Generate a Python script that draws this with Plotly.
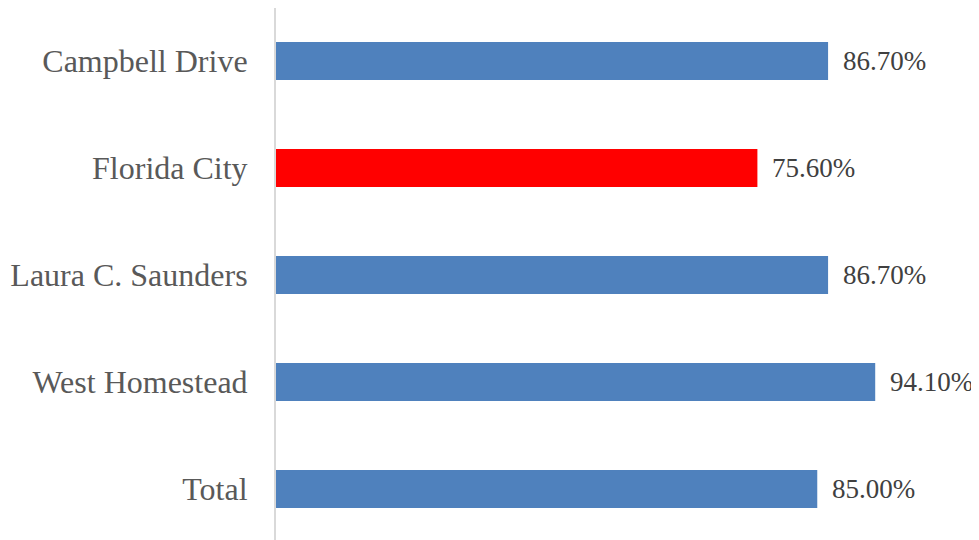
import plotly.graph_objects as go

categories = ["Campbell Drive", "Florida City", "Laura C. Saunders", "West Homestead", "Total"]
values = [86.7, 75.6, 86.7, 94.1, 85.0]
bar_colors = ["#4f81bd", "#ff0000", "#4f81bd", "#4f81bd", "#4f81bd"]
value_labels = [f"{v:.2f}%" for v in values]

fig = go.Figure()
fig.add_trace(go.Bar(
    y=categories, x=values, orientation="h",
    marker=dict(color=bar_colors, line=dict(width=0)),
    hoverinfo="skip",
))

for c, v, t in zip(categories, values, value_labels):
    fig.add_annotation(x=v, y=c, text=t, showarrow=False, xanchor="left",
                       xshift=13, yshift=0,
                       font=dict(family="Liberation Serif", size=27, color="#404040"))

# page body adds an 8px margin, so the figure is sized to fit the 979x540 window
fig.update_layout(
    width=971, height=532,
    margin=dict(l=268, r=0, t=0, b=0),
    paper_bgcolor="white", plot_bgcolor="white",
    bargap=0.645,
    showlegend=False,
    font=dict(family="Liberation Serif"),
)
fig.update_xaxes(range=[0, 110.4], showgrid=False, zeroline=False,
                 showticklabels=False, showline=False)
fig.update_yaxes(categoryorder="array", categoryarray=categories,
                 range=[4.477, -0.495], showgrid=False, zeroline=False,
                 showline=True, linecolor="#d9d9d9", linewidth=2,
                 ticks="", ticklabelstandoff=20,
                 tickfont=dict(family="Liberation Serif", size=32, color="#595959"))

fig.write_html("out.html")
